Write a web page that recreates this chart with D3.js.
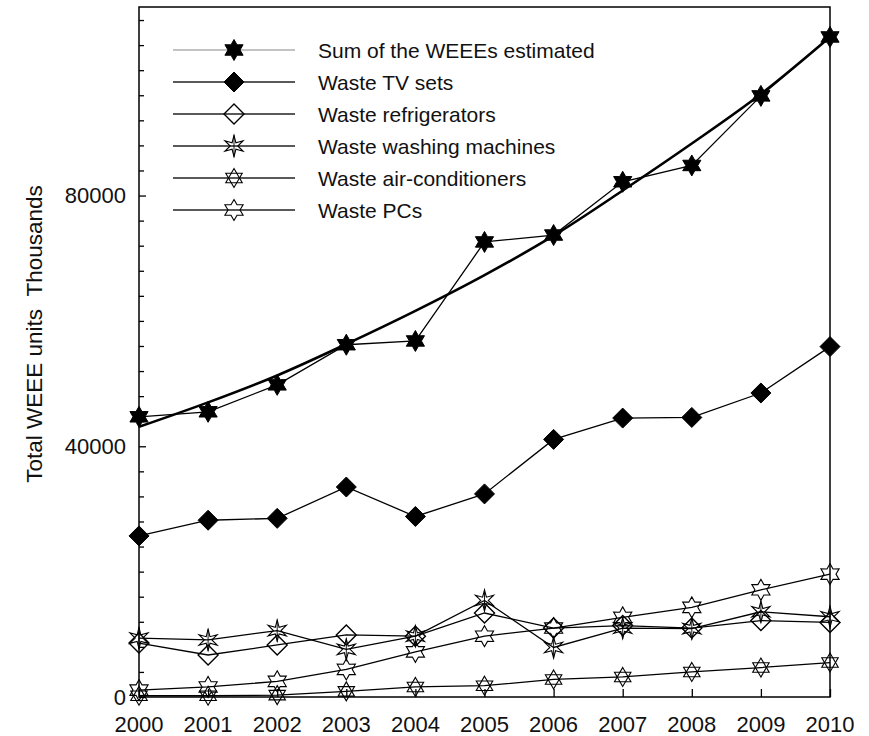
<!DOCTYPE html>
<html>
<head>
<meta charset="utf-8">
<script src="https://cdn.jsdelivr.net/npm/d3@7"></script>
<style>
  html, body { margin: 0; padding: 0; background: #fff; }
  svg text { font-family: "Liberation Sans", Arial, Helvetica, sans-serif; fill: #111; }
</style>
</head>
<body>
<svg id="chart" width="869" height="736"></svg>
<script>
// Annual WEEE generation estimates (thousand units)
const years = [2000, 2001, 2002, 2003, 2004, 2005, 2006, 2007, 2008, 2009, 2010];
const sumWEEE        = [44700, 45500, 49800, 56200, 56800, 72600, 73700, 82200, 84800, 95900, 105300];
const sumTrend       = [43100, 47000, 51300, 56300, 61600, 67300, 73600, 80800, 88300, 96200, 105300];
const tvSets         = [25700, 28200, 28500, 33500, 28800, 32400, 41100, 44500, 44600, 48500, 55900];
const refrigerators  = [8600, 6700, 8300, 9900, 9700, 13400, 11000, 11400, 11000, 12200, 11900];
const washingMachines= [9400, 9100, 10600, 7600, 9700, 15400, 7900, 11000, 10900, 13600, 12800];
const airConditioners= [200, 200, 300, 900, 1600, 1800, 2800, 3200, 4000, 4700, 5500];
const pcs            = [1100, 1600, 2500, 4400, 7200, 9700, 11000, 12700, 14300, 17100, 19600];

const yTickLabels = [0, 40000, 80000];
const legendLabels = ["Sum of the WEEEs estimated", "Waste TV sets", "Waste refrigerators",
                      "Waste washing machines", "Waste air-conditioners", "Waste PCs"];
const yTitle = "Total WEEE units\u00a0\u00a0Thousands";

const svg = d3.select("#chart");
const plotLeft = 139, plotRight = 830, plotTop = 7, plotBottom = 697;

const x = d3.scaleLinear().domain([2000, 2010]).range([plotLeft, plotRight]);
const y = d3.scaleLinear().domain([0, 110000]).range([plotBottom, plotTop + 0.5]);

// ---- marker shapes ----
function starPath(R, ri, n) {
  const pts = [];
  for (let i = 0; i < 2 * n; i++) {
    const a = -Math.PI / 2 + i * Math.PI / n;
    const r = i % 2 === 0 ? R : ri;
    pts.push([r * Math.cos(a), r * Math.sin(a)]);
  }
  return "M" + pts.map(p => p[0].toFixed(2) + "," + p[1].toFixed(2)).join("L") + "Z";
}
function trianglePath(R, flip) {
  const pts = [0, 1, 2].map(i => {
    const a = (flip ? Math.PI / 2 : -Math.PI / 2) + i * 2 * Math.PI / 3;
    return [R * Math.cos(a), R * Math.sin(a)];
  });
  return "M" + pts.map(p => p[0].toFixed(2) + "," + p[1].toFixed(2)).join("L") + "Z";
}
const diamondPath = r => `M0,${-r}L${r},0L0,${r}L${-r},0Z`;

const markers = {
  sum: g => g.append("path").attr("d", starPath(10.5, 6, 6)).attr("fill", "#000").attr("stroke", "#000").attr("stroke-width", 1),
  tv: g => g.append("path").attr("d", diamondPath(10)).attr("fill", "#000").attr("stroke", "#000").attr("stroke-width", 1),
  fridge: g => g.append("path").attr("d", diamondPath(10)).attr("fill", "none").attr("stroke", "#000").attr("stroke-width", 1.4),
  washer: g => {
    g.append("path").attr("d", starPath(10.5, 3.8, 6)).attr("fill", "none").attr("stroke", "#000").attr("stroke-width", 1.1);
    g.append("line").attr("x1", 0).attr("x2", 0).attr("y1", -11).attr("y2", 11).attr("stroke", "#000").attr("stroke-width", 0.9);
  },
  aircon: g => {
    g.append("path").attr("d", trianglePath(9.5, false)).attr("fill", "none").attr("stroke", "#000").attr("stroke-width", 1.1);
    g.append("path").attr("d", trianglePath(9.5, true)).attr("fill", "none").attr("stroke", "#000").attr("stroke-width", 1.1);
  },
  pc: g => g.append("path").attr("d", starPath(10.5, 6, 6)).attr("fill", "none").attr("stroke", "#000").attr("stroke-width", 1.1)
};

const series = [
  { key: "sum", values: sumWEEE },
  { key: "tv", values: tvSets },
  { key: "fridge", values: refrigerators },
  { key: "washer", values: washingMachines },
  { key: "aircon", values: airConditioners },
  { key: "pc", values: pcs }
];

// ---- axes frame ----
svg.append("rect").attr("x", plotLeft).attr("y", plotTop).attr("width", plotRight - plotLeft).attr("height", plotBottom - plotTop)
  .attr("fill", "none").attr("stroke", "#000").attr("stroke-width", 1.5);

// y axis: inward minor ticks every 4000, labels at 0 / 40000 / 80000
const yAxis = d3.axisRight(y).tickValues(d3.range(0, 110001, 4000)).tickSize(5).tickFormat("");
svg.append("g").attr("transform", `translate(${plotLeft},0)`).call(yAxis)
  .call(g => g.select(".domain").remove())
  .call(g => g.selectAll(".tick line").attr("stroke", "#000").attr("stroke-width", 1.3)
    .attr("x2", d => yTickLabels.includes(d) ? 7 : 5));
svg.append("g").selectAll("text").data(yTickLabels).join("text")
  .attr("x", 126).attr("y", d => y(d)).attr("dy", "0.36em")
  .attr("text-anchor", "end").attr("font-size", 22).text(d => d);

// x axis: inward ticks at each year
const xAxis = d3.axisTop(x).tickValues(years).tickSize(8).tickFormat("");
svg.append("g").attr("transform", `translate(0,${plotBottom})`).call(xAxis)
  .call(g => g.select(".domain").remove())
  .call(g => g.selectAll(".tick line").attr("stroke", "#000").attr("stroke-width", 1.3));
svg.append("g").selectAll("text").data(years).join("text")
  .attr("x", d => x(d)).attr("y", 732)
  .attr("text-anchor", "middle").attr("font-size", 22).text(d => d);

// y title
svg.append("text")
  .attr("transform", `translate(42,${334}) rotate(-90)`)
  .attr("text-anchor", "middle").attr("font-size", 22.5).text(yTitle);

// ---- lines ----
const line = d3.line().x((d, i) => x(years[i])).y(d => y(d));

svg.append("path").datum(sumTrend)
  .attr("d", d3.line().x((d, i) => x(years[i])).y(d => y(d)).curve(d3.curveMonotoneX))
  .attr("fill", "none").attr("stroke", "#000").attr("stroke-width", 2.6);

series.forEach(s => {
  svg.append("path").datum(s.values).attr("d", line)
    .attr("fill", "none").attr("stroke", "#000").attr("stroke-width", 1.3);
});

series.forEach(s => {
  s.values.forEach((v, i) => {
    const g = svg.append("g").attr("transform", `translate(${x(years[i])},${y(v)})`);
    markers[s.key](g);
  });
});

// ---- legend ----
const legendY = [50, 82, 114, 146, 178, 210];
series.forEach((s, i) => {
  const ly = legendY[i];
  svg.append("line").attr("x1", 173).attr("x2", 295).attr("y1", ly).attr("y2", ly)
    .attr("stroke", i === 0 ? "#888" : "#222").attr("stroke-width", i === 0 ? 1.2 : 1.6);
  markers[s.key](svg.append("g").attr("transform", `translate(234,${ly})`));
  svg.append("text").attr("x", 318).attr("y", ly).attr("dy", "0.36em")
    .attr("font-size", 21).text(legendLabels[i]);
});
</script>
</body>
</html>
